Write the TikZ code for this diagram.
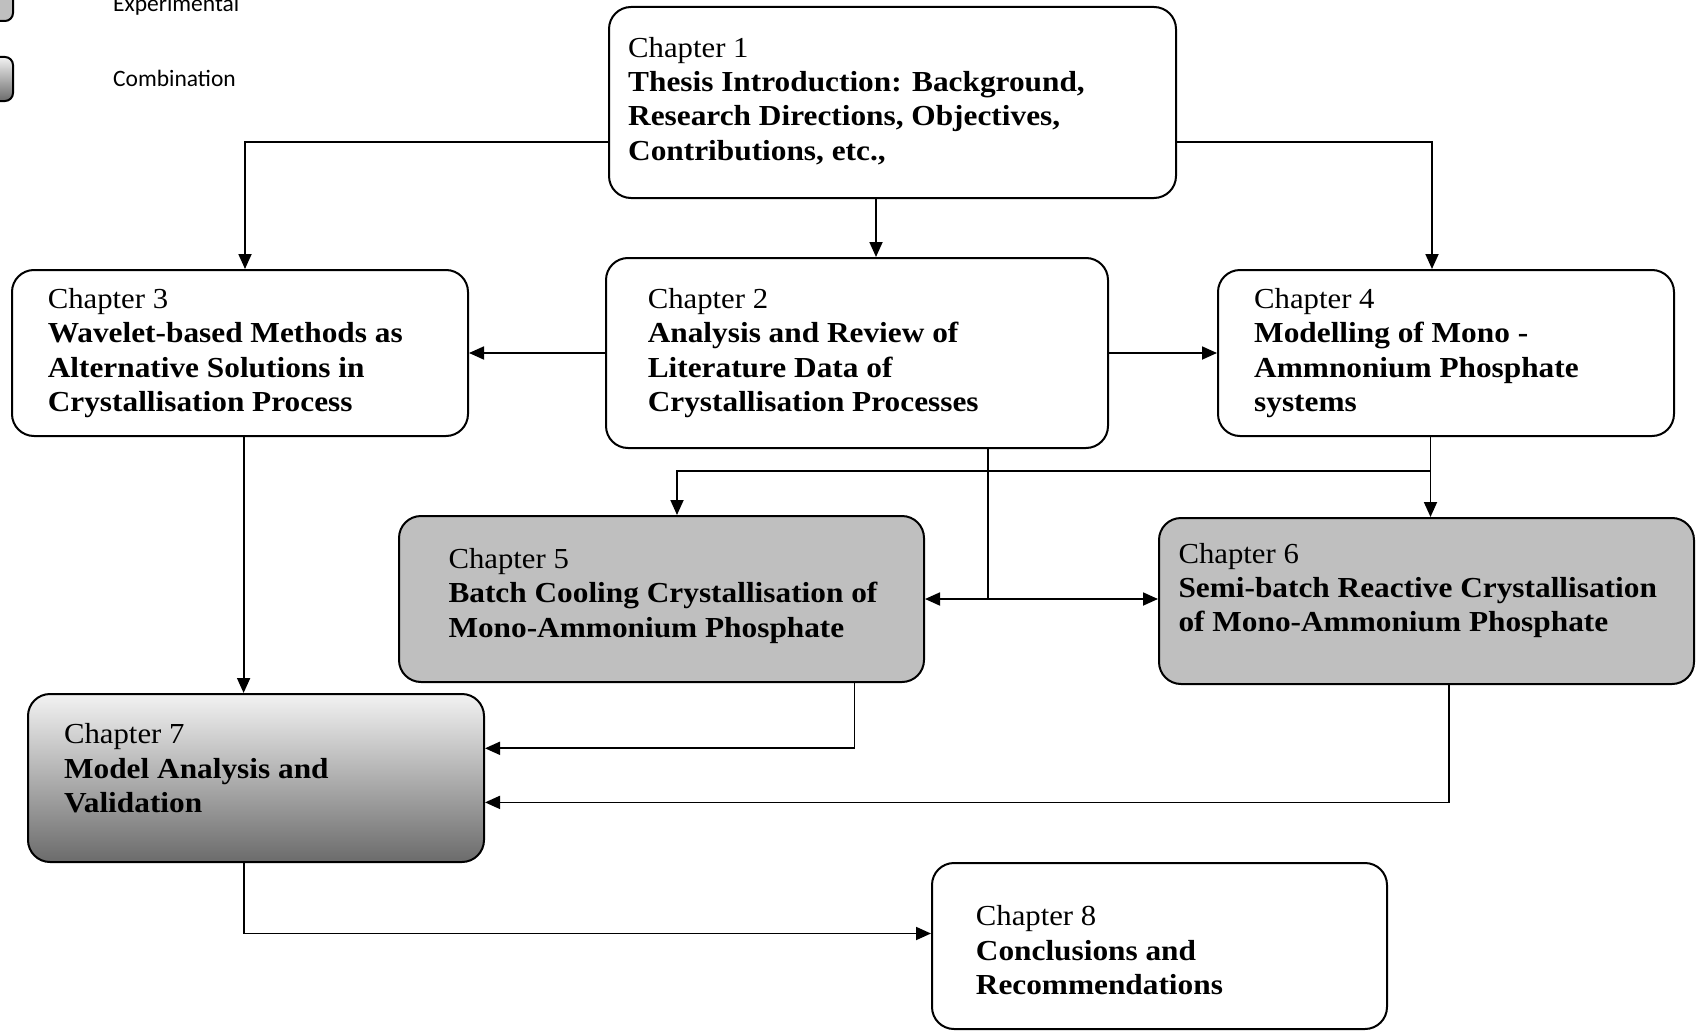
\documentclass[tikz,border=0pt]{standalone}
\usepackage{fontspec}
\setmainfont{Liberation Serif}[FakeStretch=1.06, BoldFeatures={FakeStretch=1.08}]
\newfontfamily\legendfont{Carlito}
\usetikzlibrary{arrows.meta}

\tikzset{
  chbox/.style={draw, line width=2pt, rounded corners=22pt, fill=white},
  expfill/.style={fill=black!25},
  combfill/.style={top color=black!5, bottom color=black!58},
  chtext/.style={anchor=north west, align=left, inner sep=0pt, font=\fontsize{29}{34.3}\selectfont},
  legtext/.style={anchor=base west, inner sep=0pt, font=\legendfont\fontsize{23.5}{28}\selectfont},
  link/.style={line width=1.8pt},
}

\begin{document}
\begin{tikzpicture}[x=1pt, y=-1pt, >={Triangle[length=15pt,width=13pt]}]
\useasboundingbox (0,0) rectangle (1698,1033);

% legend (cut at the page edge)
\node[chbox, expfill, rounded corners=8pt, minimum width=60pt, minimum height=50pt, anchor=south east] (legexp) at (14,22) {};
\node[chbox, combfill, rounded corners=8pt, minimum width=60pt, minimum height=44pt, anchor=north east] (legcomb) at (14,56) {};
\node[legtext] (legexpt) at (113,12) {Experimental};
\node[legtext] (legcombt) at (113,87) {Combination};

% chapter boxes
\node[chbox, minimum width=567pt, minimum height=191pt] (ch1) at (892.5,102.5) {};
\node[chbox, minimum width=456pt, minimum height=166pt] (ch3) at (240,353) {};
\node[chbox, minimum width=502pt, minimum height=190pt] (ch2) at (857,353) {};
\node[chbox, minimum width=456pt, minimum height=166pt] (ch4) at (1446,353) {};
\node[chbox, expfill, minimum width=525pt, minimum height=166pt] (ch5) at (661.5,599) {};
\node[chbox, expfill, minimum width=535pt, minimum height=166pt] (ch6) at (1426.5,601) {};
\node[chbox, combfill, minimum width=456pt, minimum height=168pt] (ch7) at (256,778) {};
\node[chbox, minimum width=455pt, minimum height=166pt] (ch8) at (1159.5,946) {};

% chapter texts
\node[chtext] (ch1t) at (628,37) {Chapter 1\\\textbf{Thesis Introduction: Background,}\\\textbf{Research Directions, Objectives,}\\\textbf{Contributions, etc.,}};
\node[chtext] (ch3t) at (47.6,288.3) {Chapter 3\\\textbf{Wavelet-based Methods as}\\\textbf{Alternative Solutions in}\\\textbf{Crystallisation Process}};
\node[chtext] (ch2t) at (647.6,288.3) {Chapter 2\\\textbf{Analysis and Review of}\\\textbf{Literature Data of}\\\textbf{Crystallisation Processes}};
\node[chtext] (ch4t) at (1254,288.3) {Chapter 4\\\textbf{Modelling of Mono -}\\\textbf{Ammnonium Phosphate}\\\textbf{systems}};
\node[chtext] (ch5t) at (448.3,548.2) {Chapter 5\\\textbf{Batch Cooling Crystallisation of}\\\textbf{Mono-Ammonium Phosphate}};
\node[chtext] (ch6t) at (1178.3,542.8) {Chapter 6\\\textbf{Semi-batch Reactive Crystallisation}\\\textbf{of Mono-Ammonium Phosphate}};
\node[chtext] (ch7t) at (63.9,723.6) {Chapter 7\\\textbf{Model Analysis and}\\\textbf{Validation}};
\node[chtext] (ch8t) at (975.7,905.5) {Chapter 8\\\textbf{Conclusions and}\\\textbf{Recommendations}};

% bends of the connectors
\coordinate (k13) at (245,142);
\coordinate (k14) at (1432,142);
\coordinate (k12) at (876,230);
\coordinate (k46) at (1430.5,471);
\coordinate (k45) at (677,471);
\coordinate (k256) at (987.6,599);
\coordinate (k37) at (243.6,560);
\coordinate (k57) at (854.4,748.3);
\coordinate (k67) at (1449,802.4);
\coordinate (k78) at (243.6,933.5);

% connectors
\draw[link,->] (ch1.west |- k13) -- (k13) -- (k13 |- ch3.north);
\draw[link,->] (ch1.east |- k14) -- (k14) -- (k14 |- ch4.north);
\draw[link,->] (ch1.south -| k12) -- (ch2.north -| k12);
\draw[link,->] (ch2.west) -- (ch3.east);
\draw[link,->] (ch2.east) -- (ch4.west);
\draw[link,->] (ch4.south -| k46) -- (k46 |- ch6.north);
\draw[link,->] (k46) -- (k45) -- (k45 |- ch5.north);
\draw[link] (ch2.south -| k256) -- (k256);
\draw[link,->] (k256) -- (k256 -| ch5.east);
\draw[link,->] (k256) -- (k256 -| ch6.west);
\draw[link,->] (ch3.south -| k37) -- (ch7.north -| k37);
\draw[link,->] (ch5.south -| k57) -- (k57) -- (k57 -| ch7.east);
\draw[link,->] (ch6.south -| k67) -- (k67) -- (k67 -| ch7.east);
\draw[link,->] (ch7.south -| k78) -- (k78) -- (k78 -| ch8.west);
\end{tikzpicture}
\end{document}
